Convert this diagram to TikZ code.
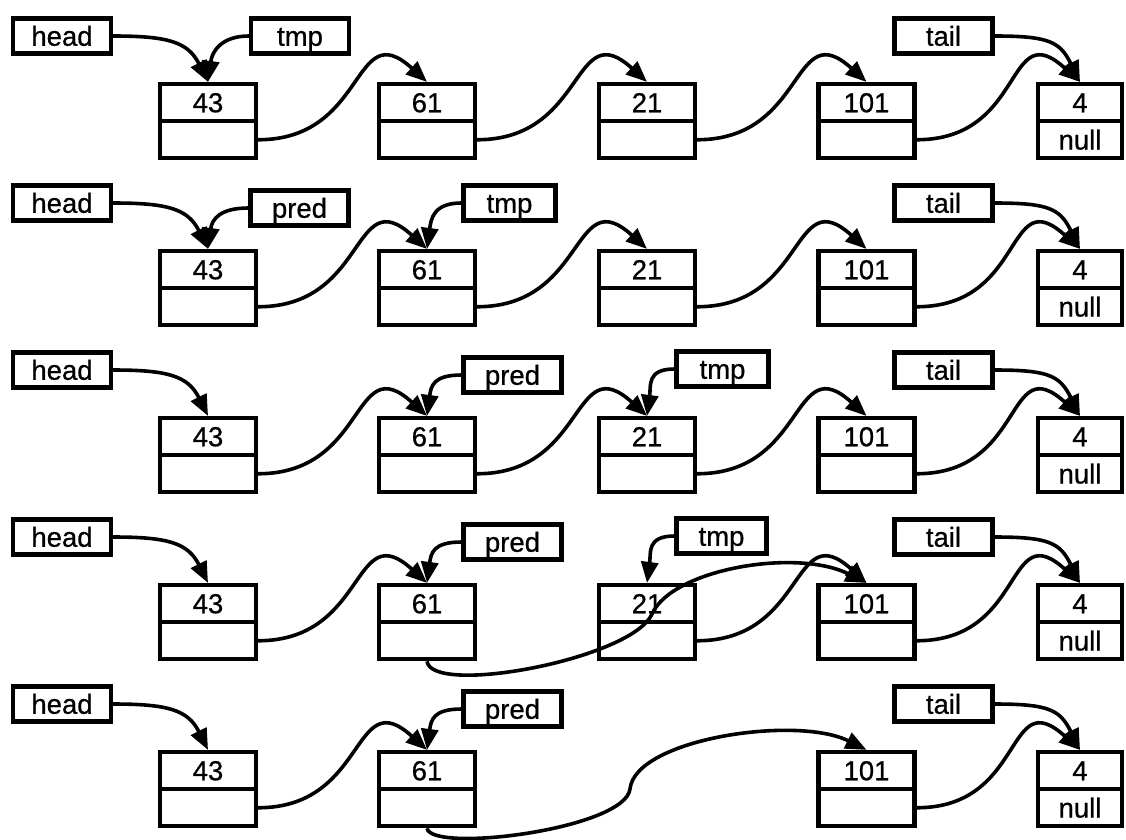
\documentclass[tikz,border=0pt]{standalone}
\usepackage{fontspec}
\setmainfont{Liberation Sans}[FakeBold=0.7]
\usetikzlibrary{arrows.meta}
\begin{document}
\begin{tikzpicture}[x=1pt,y=-1pt,
  txt/.style={font=\fontsize{27.5}{30}\selectfont, text height=19.5pt, text depth=0pt},
  cell/.style={draw, line width=4.2pt, inner sep=0pt, minimum width=96pt, minimum height=37pt, txt},
  lastcell/.style={cell, minimum width=84pt},
  ptr/.style={draw, line width=4.2pt, inner sep=0pt, minimum width=98pt, minimum height=35pt, txt},
  conn/.style={line width=3.6pt, -{Triangle[length=21pt,width=17pt]}},
  nextp/.style={to path={.. controls +(110,0) and +(-75,-68) .. (\tikztotarget)}},
  fromleft/.style={to path={.. controls +(55,0) and +(-20,-40) .. (\tikztotarget)}},
  fromright/.style={to path={.. controls +(-28,0) and +(4,-30) .. (\tikztotarget)}}]
\useasboundingbox (0,0) rectangle (1126,839);

% common cells and pointers for every row
\foreach \r/\y in {1/82,2/249,3/416,4/583,5/750}{
  \node[cell] (at\r) at (208,\y+20.5) {43};
  \node[cell] (ab\r) at (208,\y+57.75) {};
  \node[cell] (bt\r) at (427,\y+20.5) {61};
  \node[cell] (bb\r) at (427,\y+57.75) {};
  \node[cell] (dt\r) at (866.5,\y+20.5) {101};
  \node[cell] (db\r) at (866.5,\y+57.75) {};
  \node[lastcell] (et\r) at (1080,\y+20.5) {4};
  \node[lastcell] (eb\r) at (1080,\y+57.75) {null};
  \node[ptr] (h\r) at (62,\y-46) {head};
  \node[ptr] (t\r) at (943.5,\y-46) {tail};
  \draw[conn] (ab\r.east) to[nextp] (bt\r.north);
  \draw[conn] (db\r.east) to[nextp] (et\r.north);
  \draw[conn] (h\r.east) to[fromleft] (at\r.north);
  \draw[conn] (t\r.east) to[fromleft] (et\r.north);
}
% node 21 in rows 1-4
\foreach \r/\y in {1/82,2/249,3/416,4/583}{
  \node[cell] (ct\r) at (647,\y+20.5) {21};
  \node[cell] (cb\r) at (647,\y+57.75) {};
  \draw[conn] (cb\r.east) to[nextp] (dt\r.north);
}
\foreach \r in {1,2,3}{
  \draw[conn] (bb\r.east) to[nextp] (ct\r.north);
}

% row 1
\node[ptr] (tmp1) at (300,36) {tmp};
\draw[conn] (tmp1.west) to[fromright] (at1.north);
% row 2
\node[ptr] (pred2) at (299.5,208) {pred};
\node[ptr, minimum width=92pt] (tmp2) at (509.5,203) {tmp};
\draw[conn] (pred2.west) to[fromright] (at2.north);
\draw[conn] (tmp2.west) to[fromright] (bt2.north);
% row 3
\node[ptr] (pred3) at (512.5,375) {pred};
\node[ptr, minimum width=92pt] (tmp3) at (722.5,369) {tmp};
\draw[conn] (pred3.west) to[fromright] (bt3.north);
\draw[conn] (tmp3.west) to[fromright] (ct3.north);
% row 4
\node[ptr] (pred4) at (512.5,542) {pred};
\node[ptr, minimum width=90pt] (tmp4) at (721.5,536) {tmp};
\draw[conn] (pred4.west) to[fromright] (bt4.north);
\draw[conn] (tmp4.west) to[fromright] (ct4.north);
\coordinate (m4) at (652,614);
\draw[conn] (bb4.south) .. controls +(5,35) and +(-20,45) .. (m4)
  .. controls +(20,-45) and +(-70,-35) .. (dt4.north);
% row 5
\node[ptr] (pred5) at (512.5,709) {pred};
\draw[conn] (pred5.west) to[fromright] (bt5.north);
\coordinate (m5) at (630,789);
\draw[conn] (bb5.south) .. controls +(5,25) and +(-5,40) .. (m5)
  .. controls +(5,-50) and +(-70,-35) .. (dt5.north);
\end{tikzpicture}
\end{document}
